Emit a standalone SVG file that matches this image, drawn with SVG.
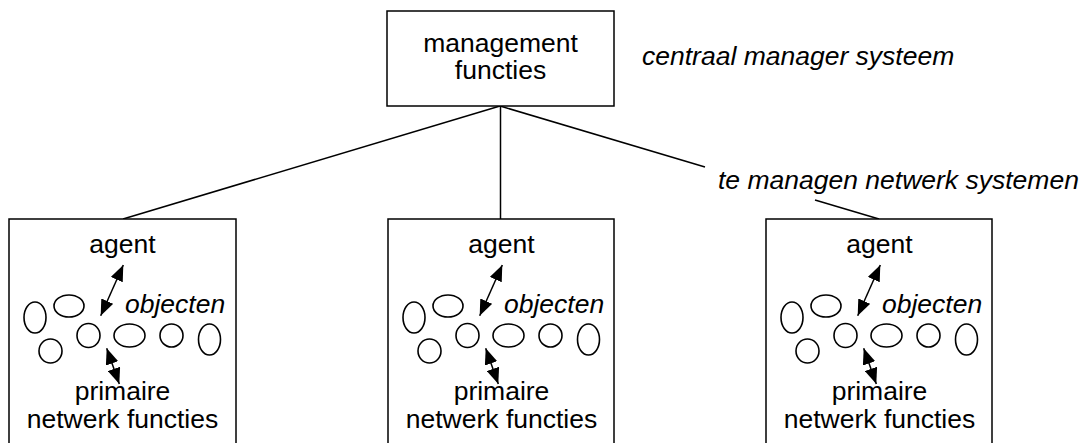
<svg xmlns="http://www.w3.org/2000/svg" width="1086" height="443" viewBox="0 0 1086 443">
  <defs>
    <style>
      .box { fill: #fff; stroke: #000; stroke-width: 1.5; }
      .wire { fill: none; stroke: #000; stroke-width: 1.5; }
      .obj { fill: none; stroke: #000; stroke-width: 1.6; }
      .arr { fill: none; stroke: #000; stroke-width: 1.5; marker-start: url(#head); marker-end: url(#head); }
      text { font-family: "Liberation Sans", Arial, sans-serif; font-size: 26.5px; fill: #000; }
      .c { text-anchor: middle; }
      .i { font-style: italic; }
    </style>
    <marker id="head" viewBox="0 0 16 13" refX="16" refY="6.5" markerWidth="16" markerHeight="13" markerUnits="userSpaceOnUse" orient="auto-start-reverse">
      <path d="M0,0 L16,6.5 L0,13 z" fill="#000"/>
    </marker>
  </defs>

  <rect width="1086" height="443" fill="#fff"/>

  <!-- links from the central manager to each managed system -->
  <g id="connectors">
    <line class="wire" x1="500" y1="106" x2="123" y2="219"/>
    <line class="wire" x1="500.5" y1="106" x2="500.5" y2="219"/>
    <line class="wire" x1="500" y1="106" x2="705" y2="167"/>
    <line class="wire" x1="815" y1="200" x2="879" y2="219"/>
  </g>

  <!-- central manager -->
  <g id="manager">
    <rect class="box" x="387" y="11" width="227" height="95"/>
    <text class="c" x="500.5" y="51.5">management</text>
    <text class="c" x="500.5" y="79">functies</text>
  </g>

  <text id="label-central" class="i" x="642" y="65">centraal manager systeem</text>
  <text id="label-managed" class="i" x="718" y="189">te managen netwerk systemen</text>

  <!-- managed system 1 -->
  <g id="system1">
    <rect class="box" x="9" y="219" width="227" height="240"/>
    <text class="c" x="122.5" y="253">agent</text>
    <line class="arr" x1="100.7" y1="315.7" x2="123.3" y2="265"/>
    <text class="i" x="125" y="313">objecten</text>
    <ellipse class="obj" cx="35" cy="317.5" rx="11" ry="15.5"/>
    <ellipse class="obj" cx="69" cy="306" rx="15" ry="11"/>
    <ellipse class="obj" cx="50.5" cy="351" rx="11.5" ry="12"/>
    <ellipse class="obj" cx="88.5" cy="335.5" rx="11.5" ry="12"/>
    <ellipse class="obj" cx="129.5" cy="335.5" rx="15.5" ry="11.5"/>
    <ellipse class="obj" cx="171.5" cy="335.5" rx="11.5" ry="11.5"/>
    <ellipse class="obj" cx="209.5" cy="339.5" rx="11" ry="15.5"/>
    <line class="arr" x1="106.7" y1="348.3" x2="119.3" y2="384"/>
    <text class="c" x="122.5" y="400">primaire</text>
    <text class="c" x="122.5" y="428">netwerk functies</text>
  </g>

  <!-- managed system 2 -->
  <g id="system2" transform="translate(379,0)">
    <rect class="box" x="9" y="219" width="226" height="240"/>
    <text class="c" x="122.5" y="253">agent</text>
    <line class="arr" x1="100.7" y1="315.7" x2="123.3" y2="265"/>
    <text class="i" x="125" y="313">objecten</text>
    <ellipse class="obj" cx="35" cy="317.5" rx="11" ry="15.5"/>
    <ellipse class="obj" cx="69" cy="306" rx="15" ry="11"/>
    <ellipse class="obj" cx="50.5" cy="351" rx="11.5" ry="12"/>
    <ellipse class="obj" cx="88.5" cy="335.5" rx="11.5" ry="12"/>
    <ellipse class="obj" cx="129.5" cy="335.5" rx="15.5" ry="11.5"/>
    <ellipse class="obj" cx="171.5" cy="335.5" rx="11.5" ry="11.5"/>
    <ellipse class="obj" cx="209.5" cy="339.5" rx="11" ry="15.5"/>
    <line class="arr" x1="106.7" y1="348.3" x2="119.3" y2="384"/>
    <text class="c" x="122.5" y="400">primaire</text>
    <text class="c" x="122.5" y="428">netwerk functies</text>
  </g>

  <!-- managed system 3 -->
  <g id="system3" transform="translate(757,0)">
    <rect class="box" x="9" y="219" width="226" height="240"/>
    <text class="c" x="122.5" y="253">agent</text>
    <line class="arr" x1="100.7" y1="315.7" x2="123.3" y2="265"/>
    <text class="i" x="125" y="313">objecten</text>
    <ellipse class="obj" cx="35" cy="317.5" rx="11" ry="15.5"/>
    <ellipse class="obj" cx="69" cy="306" rx="15" ry="11"/>
    <ellipse class="obj" cx="50.5" cy="351" rx="11.5" ry="12"/>
    <ellipse class="obj" cx="88.5" cy="335.5" rx="11.5" ry="12"/>
    <ellipse class="obj" cx="129.5" cy="335.5" rx="15.5" ry="11.5"/>
    <ellipse class="obj" cx="171.5" cy="335.5" rx="11.5" ry="11.5"/>
    <ellipse class="obj" cx="209.5" cy="339.5" rx="11" ry="15.5"/>
    <line class="arr" x1="106.7" y1="348.3" x2="119.3" y2="384"/>
    <text class="c" x="122.5" y="400">primaire</text>
    <text class="c" x="122.5" y="428">netwerk functies</text>
  </g>
</svg>
